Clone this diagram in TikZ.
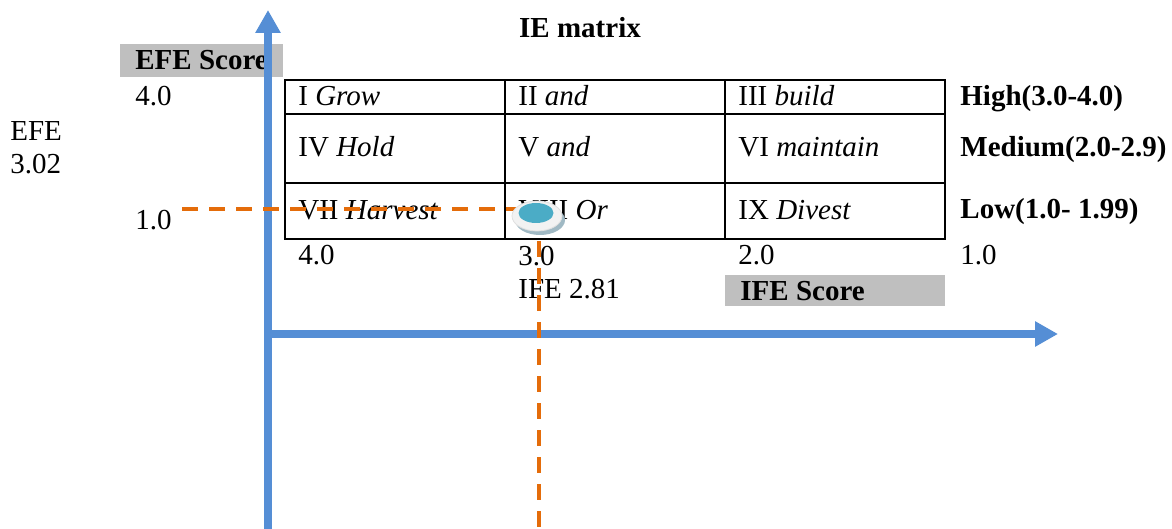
\documentclass[tikz,border=0pt]{standalone}
\usepackage{fontspec}
\setmainfont{Liberation Serif}
\usetikzlibrary{arrows.meta,shapes.geometric}
\definecolor{axisblue}{RGB}{85,142,213}
\definecolor{dashorange}{RGB}{228,108,10}
\definecolor{boxgray}{RGB}{191,191,191}
\definecolor{markteal}{RGB}{75,172,198}
\definecolor{markshadow}{RGB}{160,185,196}
\definecolor{markring}{RGB}{242,242,242}
\begin{document}
\begin{tikzpicture}[x=0.5pt,y=-0.5pt,
  every node/.style={font=\fontsize{14.5}{17}\selectfont, inner sep=0pt},
  lbl/.style={anchor=base west},
  blbl/.style={anchor=base west, font=\fontsize{14.5}{17}\selectfont\bfseries},
  scorebox/.style={fill=boxgray, anchor=north west},
  grid/.style={line width=1pt, draw=black},
  axis/.style={draw=axisblue, line width=4pt, -{Triangle[width=12pt,length=11.5pt]}},
  guide/.style={draw=dashorange, line width=2pt, dash pattern=on 8pt off 5.5pt}]
\useasboundingbox (0,0) rectangle (1172,529);

% title
\node[anchor=base, font=\fontsize{14.5}{17}\selectfont\bfseries] (title) at (580,38) {IE matrix};

% score boxes
\node[scorebox, minimum width=81.5pt, minimum height=16.5pt] (efebox) at (120,44) {};
\node[blbl] (efetext) at (135,70) {EFE Score};
\node[scorebox, minimum width=110pt, minimum height=15.5pt] (ifebox) at (725,275) {};
\node[blbl] (ifetext) at (740,300) {IFE Score};

% table grid
\draw[grid] (285,80) rectangle (945,239);
\draw[grid] (285,114) -- (945,114);
\draw[grid] (285,183) -- (945,183);
\draw[grid] (505,80) -- (505,239);
\draw[grid] (725,80) -- (725,239);

% cells
\node[lbl] (c11) at (298,106) {I \textit{Grow}};
\node[lbl] (c12) at (518,106) {II \textit{and}};
\node[lbl] (c13) at (738,106) {III \textit{build}};
\node[lbl] (c21) at (298,157) {IV \textit{Hold}};
\node[lbl] (c22) at (518,157) {V \textit{and}};
\node[lbl] (c23) at (738,157) {VI \textit{maintain}};
\node[lbl] (c31) at (298,220) {VII \textit{Harvest}};
\node[lbl] (c32) at (518,220) {VIII \textit{Or}};
\node[lbl] (c33) at (738,220) {IX \textit{Divest}};

% row labels
\node[blbl] (high) at (960,106) {High(3.0-4.0)};
\node[blbl] (med) at (960,157) {Medium(2.0-2.9)};
\node[blbl] (low) at (960,219) {Low(1.0- 1.99)};

% left scale
\node[lbl] (y40) at (135,106) {4.0};
\node[lbl] (y10) at (135,230) {1.0};
\node[lbl] (efe) at (10,141) {EFE};
\node[lbl] (efev) at (10,174) {3.02};

% bottom scale
\node[lbl] (x40) at (298,264) {4.0};
\node[lbl] (x30) at (518,265) {3.0};
\node[lbl] (x20) at (738,264) {2.0};
\node[lbl] (x10) at (960,264) {1.0};
\node[lbl] (ife) at (518,299) {IFE 2.81};

% axes
\coordinate (vbot) at (268,529);
\coordinate (vtop) at (268,10);
\coordinate (hleft) at (268,334);
\coordinate (hright) at (1058,334);
\draw[axis] (vbot) -- (vtop);
\draw[axis] (hleft) -- (hright);

% guides
\coordinate (mpos) at (539,214);
\coordinate (gstart) at (182,209);
\coordinate (gend) at (539,529);
\draw[guide] (gstart) -- (gstart -| mpos);
\draw[guide] (mpos) -- (gend);

% marker
\node[ellipse, fill=markshadow, minimum width=25pt, minimum height=15pt] (mshadow) at (540,220) {};
\node[ellipse, fill=markring, draw=black!12, line width=0.4pt, minimum width=25pt, minimum height=15pt] (mring) at (537,216) {};
\node[ellipse, fill=markteal, minimum width=17.5pt, minimum height=10pt] (mark) at (536,213) {};
\end{tikzpicture}
\end{document}
